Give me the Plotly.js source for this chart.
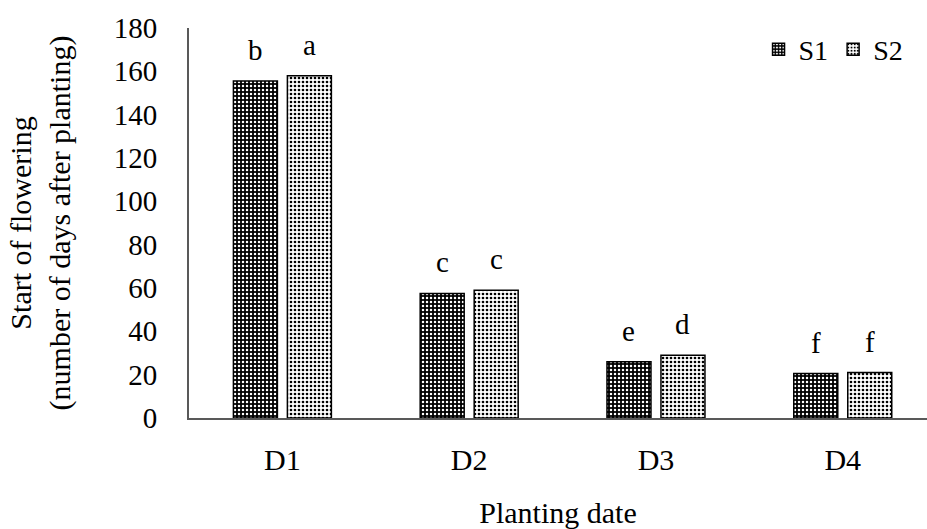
<!DOCTYPE html>
<html>
<head>
<meta charset="utf-8">
<script src="https://cdn.plot.ly/plotly-3.0.1.min.js"></script>
<style>html,body{margin:0;padding:0;background:#fff;}#chart{width:927px;height:529px;}</style>
</head>
<body>
<div id="chart"></div>
<script>
const categories = ["D1", "D2", "D3", "D4"];
const seriesNames = ["S1", "S2"];
const s1Values = [155.5, 57.5, 26, 20.5];
const s2Values = [158, 59, 29, 21];
const s1Letters = ["b", "c", "e", "f"];
const s2Letters = ["a", "c", "d", "f"];
const yTicks = [0, 20, 40, 60, 80, 100, 120, 140, 160, 180];

const FONT = "Liberation Serif, Times New Roman, serif";

const traces = [
  {
    type: "bar", name: seriesNames[0], x: categories, y: s1Values,
    marker: {
      color: "#000",
      line: {color: "#000", width: 1.5},
      pattern: {shape: ".", bgcolor: "#000", fgcolor: "#fff", size: 4, solidity: 0.3}
    },
    hoverinfo: "skip"
  },
  {
    type: "bar", name: seriesNames[1], x: categories, y: s2Values,
    marker: {
      color: "#fff",
      line: {color: "#000", width: 1.5},
      pattern: {shape: ".", bgcolor: "#fff", fgcolor: "#000", size: 4, solidity: 0.35}
    },
    hoverinfo: "skip"
  }
];

const bargap = 0.422, bargroupgap = 0.185;
const groupW = 1 - bargap;
const offsets = [-groupW / 4, groupW / 4];

const annotations = [];
[[s1Values, s1Letters], [s2Values, s2Letters]].forEach(([vals, letters], si) => {
  categories.forEach((c, i) => {
    annotations.push({
      x: i + offsets[si], y: vals[i], xref: "x", yref: "y",
      text: letters[i], showarrow: false, yanchor: "bottom", yshift: 13,
      font: {family: FONT, size: 29, color: "#000"}
    });
  });
});

const layout = {
  width: 927, height: 529,
  margin: {l: 189, r: 0, t: 28, b: 111},
  paper_bgcolor: "#fff", plot_bgcolor: "#fff",
  barmode: "group", bargap: bargap, bargroupgap: bargroupgap,
  font: {family: FONT, size: 29, color: "#000"},
  showlegend: true,
  legend: {
    orientation: "h", x: 0.975, xanchor: "right", y: 0.945, yanchor: "middle",
    font: {family: FONT, size: 28, color: "#000"}, bgcolor: "rgba(0,0,0,0)",
    itemwidth: 30, traceorder: "normal"
  },
  xaxis: {
    type: "category", range: [-0.5, 3.451],
    showline: true, linecolor: "#595959", linewidth: 2, mirror: false,
    ticks: "", showgrid: false, zeroline: false,
    tickfont: {family: FONT, size: 30, color: "#000"},
    ticklabelstandoff: 14,
    title: {text: "Planting date", font: {family: FONT, size: 30, color: "#000"}, standoff: 28}
  },
  yaxis: {
    range: [0, 180], tickvals: yTicks, ticktext: yTicks.map(String),
    showline: true, linecolor: "#595959", linewidth: 2,
    ticks: "", showgrid: false, zeroline: false,
    tickfont: {family: FONT, size: 29, color: "#000"},
    ticklabelstandoff: 24,
    title: {text: "Start of flowering<br>(number of days after planting)", font: {family: FONT, size: 30, color: "#000"}, standoff: 34}
  },
  annotations: annotations
};

Plotly.newPlot("chart", traces, layout, {staticPlot: true, displayModeBar: false});
</script>
</body>
</html>
